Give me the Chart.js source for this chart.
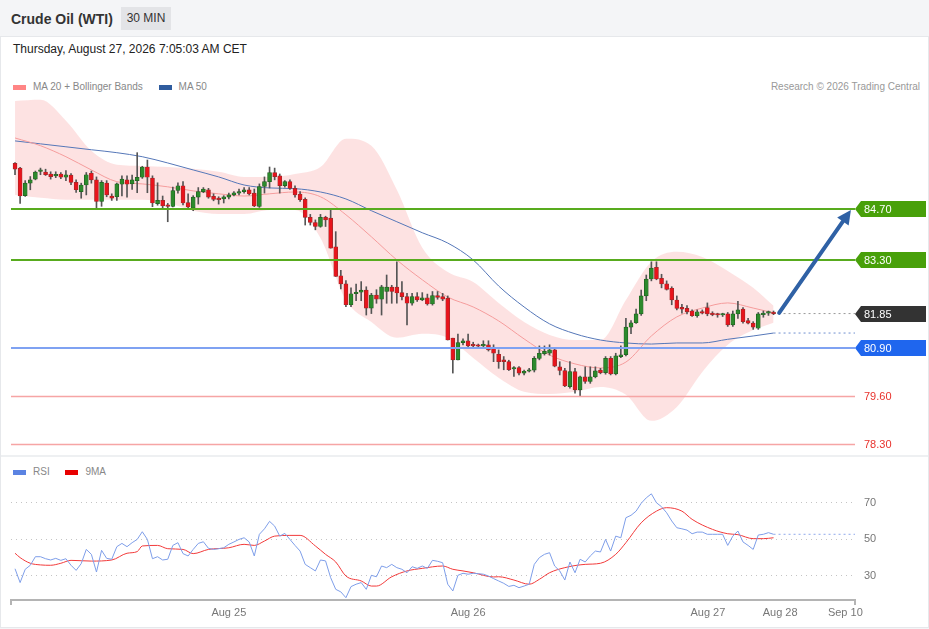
<!DOCTYPE html>
<html>
<head>
<meta charset="utf-8">
<title>Crude Oil (WTI) 30 MIN</title>
<script src="https://cdn.jsdelivr.net/npm/chart.js@4.4.1/dist/chart.umd.min.js"></script>
<style>
    html, body { margin: 0; padding: 0; }
    body {
        width: 929px; height: 629px; position: relative; overflow: hidden;
        background: #f4f5f7; font-family: "Liberation Sans", Arial, sans-serif;
    }
    .panel { position: absolute; left: 0; top: 36px; width: 927px; height: 590px; background: #fff; border: 1px solid #e6e8eb; }
    .sep { position: absolute; left: 1px; top: 455px; width: 927px; height: 2px; background: #eef0f2; }
    .title { position: absolute; left: 11px; top: 11px; font-size: 14px; font-weight: bold; color: #333; }
    .badge { position: absolute; left: 121px; top: 7px; width: 50px; height: 23px; line-height: 23px; text-align: center; background: #e3e4e7; font-size: 12px; color: #333; }
    .date { position: absolute; left: 13px; top: 42px; font-size: 12px; color: #222; }
    .legend { position: absolute; left: 13px; font-size: 10px; color: #888; height: 12px; line-height: 12px; white-space: nowrap; }
    .legend span { display: inline-block; vertical-align: middle; }
    .sw { width: 13px; height: 5px; margin-right: 7px; }
    .credit { position: absolute; right: 9px; top: 81px; font-size: 10px; color: #999; line-height: 12px; }
    canvas { position: absolute; left: 0; }
    #price { top: 95px; }
    #rsi { top: 456px; }
</style>
</head>
<body>
<div class="panel"></div>
<div class="title">Crude Oil (WTI)</div>
<div class="badge">30 MIN</div>
<div class="date">Thursday, August 27, 2026 7:05:03 AM CET</div>
<div class="legend" style="top:81px">
    <span class="sw" style="background:#ff8585"></span><span style="margin-right:13px">MA 20 + Bollinger Bands</span>
    <span class="sw" style="background:#2f5c9e"></span><span>MA 50</span>
</div>
<div class="credit">Research © 2026 Trading Central</div>
<canvas id="price" width="929" height="360"></canvas>
<div class="sep"></div>
<div class="legend" style="top:466px">
    <span class="sw" style="background:#5b83e2"></span><span style="margin-right:13px">RSI</span>
    <span class="sw" style="background:#e80000"></span><span>9MA</span>
</div>
<canvas id="rsi" width="929" height="173"></canvas>

<script>
// 30 min candles, index 0 = first bar on the left
const opens = [
    85.94, 85.81, 85.06, 85.40, 85.51, 85.72, 85.70, 85.65, 85.60, 85.65,
    85.56, 85.62, 85.42, 85.17, 85.35, 85.67, 85.49, 84.90, 85.40, 85.05,
    85.03, 85.37, 85.49, 85.38, 85.47, 85.56, 85.84, 85.54, 84.84, 84.93,
    84.80, 84.77, 85.20, 85.33, 84.87, 84.72, 85.02, 85.17, 85.22, 85.04,
    84.99, 84.97, 85.02, 85.08, 85.13, 85.17, 85.22, 85.13, 84.77, 85.31,
    85.44, 85.69, 85.60, 85.33, 85.44, 85.26, 85.10, 84.96, 84.47, 84.33,
    84.22, 84.47, 84.45, 83.67, 82.88, 82.66, 82.09, 82.39, 82.43, 82.49,
    82.00, 82.35, 82.24, 82.45, 82.57, 82.57, 82.42, 82.31, 82.13, 82.31,
    82.22, 82.28, 82.11, 82.34, 82.31, 82.27, 81.18, 80.59, 81.06, 81.11,
    81.00, 80.98, 80.97, 81.00, 80.90, 80.74, 80.59, 80.54, 80.34, 80.38,
    80.23, 80.28, 80.31, 80.63, 80.76, 80.77, 80.86, 80.40, 80.30, 79.86,
    80.27, 79.77, 80.13, 80.00, 80.13, 80.31, 80.24, 80.63, 80.21, 80.68,
    80.73, 81.48, 81.60, 81.84, 82.33, 82.79, 83.11, 82.81, 82.66, 82.54,
    82.22, 82.02, 81.99, 81.92, 81.79, 81.90, 82.01, 81.86, 81.82, 81.81,
    81.84, 81.54, 81.84, 81.97, 81.66, 81.59, 81.45, 81.82, 81.86, 81.88,
];
const highs = [
    85.96, 85.83, 85.47, 85.58, 85.73, 85.81, 85.78, 85.71, 85.71, 85.69,
    85.74, 85.66, 85.49, 85.40, 85.69, 85.73, 85.57, 85.47, 85.47, 85.11,
    85.40, 85.60, 85.60, 85.62, 86.23, 85.86, 86.03, 85.60, 85.41, 85.05,
    84.85, 85.29, 85.41, 85.44, 85.11, 85.06, 85.28, 85.28, 85.26, 85.11,
    85.03, 85.06, 85.13, 85.17, 85.24, 85.28, 85.28, 85.24, 85.38, 85.57,
    85.84, 85.81, 85.65, 85.47, 85.49, 85.33, 85.17, 85.00, 84.55, 84.40,
    84.55, 84.50, 84.67, 84.08, 83.03, 82.75, 82.55, 82.65, 82.72, 82.58,
    82.40, 82.50, 82.62, 82.90, 82.62, 83.26, 82.72, 82.40, 82.40, 82.42,
    82.42, 82.38, 82.45, 82.45, 82.40, 82.33, 81.18, 81.29, 81.16, 81.29,
    81.07, 81.02, 81.11, 81.11, 81.00, 80.86, 80.68, 80.58, 80.41, 80.41,
    80.31, 80.36, 80.68, 80.97, 80.97, 81.00, 80.92, 80.54, 80.36, 80.54,
    80.36, 80.15, 80.40, 80.40, 80.40, 80.36, 80.68, 80.68, 80.77, 80.97,
    81.72, 81.66, 81.97, 82.49, 82.90, 83.26, 83.26, 82.92, 82.74, 82.58,
    82.33, 82.10, 82.07, 81.95, 81.95, 81.95, 82.14, 81.90, 81.86, 81.86,
    81.88, 81.92, 82.18, 82.01, 81.72, 81.63, 81.88, 81.92, 81.92, 81.92,
];
const lows = [
    85.63, 84.85, 85.04, 85.22, 85.49, 85.63, 85.61, 85.51, 85.55, 85.52,
    85.47, 85.36, 85.15, 84.99, 85.08, 85.40, 84.72, 84.77, 85.03, 84.93,
    84.93, 85.05, 85.02, 85.23, 85.14, 85.53, 85.14, 84.76, 84.80, 84.72,
    84.35, 84.75, 85.13, 84.81, 84.72, 84.65, 84.83, 85.14, 84.99, 84.92,
    84.83, 84.86, 84.97, 85.05, 85.08, 85.13, 85.08, 84.76, 84.74, 85.13,
    85.27, 85.49, 85.13, 85.29, 85.23, 85.02, 84.90, 84.26, 84.26, 84.13,
    84.20, 84.22, 83.63, 82.86, 82.52, 82.04, 82.04, 82.20, 82.20, 81.81,
    81.85, 82.13, 81.81, 82.13, 82.13, 82.13, 82.22, 81.54, 82.08, 82.18,
    82.20, 82.08, 82.08, 82.24, 82.20, 81.13, 80.23, 80.59, 81.00, 80.92,
    80.92, 80.95, 80.92, 80.83, 80.54, 80.36, 80.32, 80.30, 80.14, 80.18,
    80.18, 80.26, 80.26, 80.59, 80.72, 80.72, 80.40, 80.18, 79.86, 79.82,
    79.68, 79.61, 79.95, 79.95, 80.10, 80.21, 80.20, 80.18, 80.18, 80.65,
    80.70, 81.30, 81.58, 81.80, 82.20, 82.74, 82.77, 82.55, 82.49, 82.09,
    81.95, 81.86, 81.84, 81.77, 81.75, 81.84, 81.79, 81.79, 81.75, 81.77,
    81.50, 81.50, 81.72, 81.59, 81.57, 81.42, 81.42, 81.75, 81.80, 81.82,
];
const closes = [
    85.78, 85.05, 85.40, 85.49, 85.70, 85.74, 85.63, 85.58, 85.64, 85.56,
    85.63, 85.42, 85.22, 85.35, 85.63, 85.49, 84.90, 85.42, 85.08, 84.99,
    85.38, 85.51, 85.37, 85.49, 85.56, 85.84, 85.56, 84.86, 84.93, 84.78,
    84.77, 85.20, 85.33, 84.86, 84.75, 85.02, 85.17, 85.24, 85.02, 84.96,
    84.95, 85.03, 85.08, 85.14, 85.17, 85.22, 85.11, 84.78, 85.31, 85.44,
    85.69, 85.58, 85.33, 85.44, 85.26, 85.08, 84.95, 84.47, 84.33, 84.22,
    84.47, 84.40, 83.63, 82.86, 82.66, 82.09, 82.39, 82.43, 82.49, 82.00,
    82.35, 82.24, 82.58, 82.57, 82.45, 82.41, 82.31, 82.13, 82.31, 82.22,
    82.28, 82.11, 82.34, 82.29, 82.24, 81.13, 80.59, 81.06, 81.11, 80.97,
    80.97, 80.96, 81.01, 80.86, 80.77, 80.54, 80.54, 80.32, 80.38, 80.23,
    80.28, 80.31, 80.63, 80.77, 80.82, 80.86, 80.42, 80.30, 79.88, 80.27,
    79.77, 80.13, 80.00, 80.13, 80.29, 80.24, 80.63, 80.21, 80.70, 80.73,
    81.48, 81.60, 81.84, 82.33, 82.79, 83.09, 82.79, 82.66, 82.51, 82.22,
    81.99, 81.97, 81.90, 81.79, 81.90, 81.86, 81.84, 81.82, 81.81, 81.84,
    81.54, 81.84, 81.95, 81.63, 81.59, 81.48, 81.84, 81.86, 81.88, 81.85,
];

// moving averages and Bollinger bands, read every 5 bars
const bandIdx = [0, 5, 10, 15, 20, 25, 30, 35, 40, 45, 50, 55, 60, 65, 70, 75, 80, 85, 90, 95, 100, 105, 110, 115, 120, 125, 130, 135, 140, 145, 149];
const bandUpper = [87.64, 87.67, 87.10, 86.28, 85.90, 85.87, 85.84, 85.79, 85.71, 85.57, 85.57, 85.65, 85.84, 86.61, 86.42, 85.22, 83.64, 82.98, 82.71, 82.14, 81.62, 81.27, 81.13, 81.13, 82.22, 83.26, 83.53, 83.39, 83.01, 82.55, 82.06];
const bandLower = [85.08, 85.00, 84.95, 84.95, 84.95, 84.95, 84.86, 84.65, 84.56, 84.56, 84.67, 84.67, 83.91, 82.22, 81.62, 81.19, 81.30, 81.19, 80.64, 80.10, 79.72, 79.66, 79.72, 79.85, 79.64, 78.93, 79.31, 80.26, 81.00, 81.40, 81.60];
const ma20 = [86.63, 86.42, 86.12, 85.76, 85.44, 85.38, 85.30, 85.19, 85.11, 85.05, 85.11, 85.16, 85.03, 84.54, 83.94, 83.31, 82.77, 82.30, 82.03, 81.65, 81.16, 80.72, 80.48, 80.37, 80.53, 81.24, 81.76, 82.00, 82.14, 82.00, 81.87];
const ma50 = [86.55, 86.47, 86.39, 86.31, 86.23, 86.12, 85.95, 85.76, 85.57, 85.35, 85.27, 85.25, 85.16, 84.97, 84.65, 84.35, 84.05, 83.77, 83.31, 82.60, 82.03, 81.57, 81.30, 81.13, 81.05, 81.02, 81.05, 81.05, 81.15, 81.24, 81.32];

// key levels on the right
const levelValues = [84.70, 83.30, 81.85, 80.90, 79.60, 78.30];
const lastPrice = 81.85;
const arrowStart = [150.1, 81.87];
const arrowEnd = [164.2, 84.67];

// RSI (one value per bar) and its 9 bar average
const rsiValues = [
    33.7, 26.1, 33.4, 35.6, 40.3, 40.3, 39.2, 38.5, 39.4, 38.3,
    39.2, 35.6, 32.8, 36.5, 44.3, 41.6, 31.9, 43.8, 39.4, 38.9,
    45.8, 47.6, 45.8, 48.0, 49.8, 54.0, 49.8, 39.2, 40.3, 38.5,
    38.9, 46.5, 48.0, 42.0, 40.7, 44.3, 47.6, 48.5, 44.9, 44.3,
    44.7, 45.2, 47.1, 48.4, 49.8, 50.7, 48.4, 40.7, 52.6, 55.6,
    59.7, 57.1, 51.6, 53.1, 49.8, 46.5, 43.4, 36.1, 34.3, 32.5,
    38.5, 38.0, 28.8, 22.4, 21.0, 17.8, 23.9, 25.2, 26.1, 22.4,
    30.1, 29.3, 35.2, 34.3, 36.1, 34.3, 33.4, 31.5, 34.8, 33.9,
    35.2, 33.9, 38.3, 37.8, 37.0, 25.2, 21.5, 30.1, 31.2, 30.7,
    31.2, 31.0, 30.7, 29.7, 28.3, 27.0, 25.7, 24.0, 24.6, 23.3,
    24.2, 25.2, 36.1, 39.8, 41.6, 42.5, 35.2, 32.5, 27.5, 37.4,
    31.5, 38.9, 37.4, 40.7, 43.4, 42.9, 49.8, 43.4, 51.6, 50.7,
    61.7, 63.0, 65.3, 69.6, 72.6, 74.8, 69.9, 67.7, 64.4, 59.9,
    56.2, 55.6, 54.9, 52.9, 53.8, 53.8, 52.6, 52.6, 52.6, 52.6,
    46.5, 51.6, 54.4, 48.4, 46.5, 44.3, 52.2, 52.6, 53.5, 52.6,
];
const rsiMaIdx = [0, 1, 3, 5, 7, 9, 11, 15, 19, 22, 24, 25, 28, 30, 33, 35, 38, 42, 45, 47, 49, 51, 54, 56, 59, 61, 63, 65, 68, 70, 71, 74, 77, 80, 84, 86, 88, 90, 94, 95, 98, 101, 103, 105, 108, 112, 115, 118, 120, 123, 126, 128, 131, 133, 137, 140, 142, 145, 147, 149];
const rsiMaValues = [42.2, 39.8, 36.7, 35.8, 35.6, 36.7, 38.3, 37.9, 38.5, 42.2, 43.1, 46.2, 46.5, 44.7, 44.3, 42.0, 44.3, 45.2, 47.1, 46.5, 48.9, 51.6, 52.0, 52.0, 46.2, 41.6, 37.4, 29.7, 27.0, 24.2, 24.2, 29.3, 32.5, 33.9, 35.2, 33.4, 32.5, 31.5, 29.2, 29.3, 27.5, 25.2, 27.9, 31.5, 34.3, 36.1, 36.7, 41.6, 48.0, 58.9, 65.3, 67.2, 65.3, 60.8, 55.3, 52.9, 52.4, 50.2, 50.2, 50.7];
const rsiTicks = [30, 50, 70];

// time axis: bar index of each date label; the tail after the last bar is the projection area
const xMin = -0.79;
const xMax = 165;
const dateTickPos = [xMin, 42.0, 89.0, 136.1, 150.3, 163.1, xMax];
const dateTickLabels = ['', 'Aug 25', 'Aug 26', 'Aug 27', 'Aug 28', 'Sep 10', ''];

Chart.defaults.font.family = '"Liberation Sans", Arial, sans-serif';
Chart.defaults.animation = false;

const lastIdx = closes.length - 1;
const pts = (xs, ys) => xs.map((x, i) => ({ x, y: ys[i] }));

const levelStyles = [
    { line: '#58ab1e', width: 2, tag: '#48a00a' },
    { line: '#58ab1e', width: 2, tag: '#48a00a' },
    { line: null, tag: '#333333' },
    { line: '#7fa2f2', width: 2, tag: '#1f66ee' },
    { line: '#f6a5a5', width: 1.5, text: '#e8322c' },
    { line: '#f6a5a5', width: 1.5, text: '#e8322c' },
];

const levelsPlugin = {
    id: 'levels',
    afterDatasetsDraw(chart) {
        const { ctx, chartArea, scales: { y } } = chart;
        ctx.save();
        levelValues.forEach((v, i) => {
            const st = levelStyles[i];
            if (!st.line) return;
            const py = Math.round(y.getPixelForValue(v)) + (st.width % 2 ? 0.5 : 0);
            ctx.strokeStyle = st.line;
            ctx.lineWidth = st.width;
            ctx.beginPath();
            ctx.moveTo(chartArea.left, py);
            ctx.lineTo(chartArea.right, py);
            ctx.stroke();
        });
        ctx.restore();
    },
    afterDraw(chart) {
        const { ctx, chartArea, scales: { x, y } } = chart;
        ctx.save();
        // arrow
        const x0 = x.getPixelForValue(arrowStart[0]);
        const y0 = y.getPixelForValue(arrowStart[1]);
        const x1 = x.getPixelForValue(arrowEnd[0]);
        const y1 = y.getPixelForValue(arrowEnd[1]);
        const ang = Math.atan2(y1 - y0, x1 - x0);
        const headLen = 14;
        const bx = x1 - headLen * Math.cos(ang);
        const by = y1 - headLen * Math.sin(ang);
        ctx.strokeStyle = '#2f61a5';
        ctx.fillStyle = '#2f61a5';
        ctx.lineWidth = 4;
        ctx.lineCap = 'round';
        ctx.beginPath();
        ctx.moveTo(x0, y0);
        ctx.lineTo(bx, by);
        ctx.stroke();
        ctx.beginPath();
        ctx.moveTo(x1, y1);
        ctx.lineTo(bx + 7 * Math.sin(ang), by - 7 * Math.cos(ang));
        ctx.lineTo(bx - 7 * Math.sin(ang), by + 7 * Math.cos(ang));
        ctx.closePath();
        ctx.fill();

        // value tags
        ctx.font = '11px "Liberation Sans", Arial, sans-serif';
        ctx.textBaseline = 'middle';
        ctx.textAlign = 'left';
        const left = chartArea.right;
        levelValues.forEach((v, i) => {
            const st = levelStyles[i];
            const py = Math.round(y.getPixelForValue(v));
            if (st.tag) {
                ctx.fillStyle = st.tag;
                ctx.beginPath();
                ctx.moveTo(left, py);
                ctx.lineTo(left + 6, py - 8);
                ctx.lineTo(left + 71, py - 8);
                ctx.lineTo(left + 71, py + 8);
                ctx.lineTo(left + 6, py + 8);
                ctx.closePath();
                ctx.fill();
                ctx.fillStyle = '#ffffff';
            } else {
                ctx.fillStyle = st.text;
            }
            ctx.fillText(v.toFixed(2), left + 9, py + 0.5);
        });
        ctx.restore();
    },
};

const isUp = (i) => closes[i] >= opens[i];

new Chart(document.getElementById('price'), {
    type: 'bar',
    data: {
        datasets: [
            {
                type: 'line', data: pts(bandIdx, bandUpper), borderWidth: 0, borderColor: 'transparent',
                pointRadius: 0, fill: false, cubicInterpolationMode: 'monotone', order: 30,
            },
            {
                type: 'line', data: pts(bandIdx, bandLower), borderWidth: 0, borderColor: 'transparent',
                pointRadius: 0, fill: 0, backgroundColor: 'rgba(248,150,150,0.28)',
                cubicInterpolationMode: 'monotone', order: 30,
            },
            {
                type: 'line', data: pts(bandIdx, ma20), borderColor: '#f59c9c', borderWidth: 1,
                pointRadius: 0, cubicInterpolationMode: 'monotone', order: 20,
            },
            {
                type: 'line', data: pts(bandIdx, ma50), borderColor: '#5577b8', borderWidth: 1,
                pointRadius: 0, cubicInterpolationMode: 'monotone', order: 20,
            },
            {
                type: 'line', data: [{ x: lastIdx, y: ma50[ma50.length - 1] }, { x: xMax, y: ma50[ma50.length - 1] }],
                borderColor: '#6f8fcf', borderWidth: 1, borderDash: [2, 3], pointRadius: 0, order: 20,
            },
            {
                type: 'line', data: [{ x: lastIdx, y: lastPrice }, { x: xMax, y: lastPrice }],
                borderColor: '#999999', borderWidth: 1, borderDash: [2, 3], pointRadius: 0, order: 20,
            },
            {
                data: highs.map((h, i) => ({ x: i, y: [lows[i], h] })),
                backgroundColor: '#555555', barThickness: 1, grouped: false, order: 2,
            },
            {
                data: opens.map((o, i) => ({ x: i, y: [o, closes[i]] })),
                backgroundColor: (ctx) => isUp(ctx.dataIndex) ? '#2c8a2c' : '#e8141c',
                borderColor: (ctx) => isUp(ctx.dataIndex) ? '#1f5e1f' : '#9a2a2a',
                borderWidth: 0.7, borderSkipped: false,
                barThickness: 4, minBarLength: 1.5, grouped: false, order: 1,
            },
        ],
    },
    options: {
        responsive: false,
        events: [],
        layout: { padding: { left: 11, right: 74, top: 0, bottom: 0 } },
        plugins: { legend: { display: false }, tooltip: { enabled: false } },
        scales: {
            x: { type: 'linear', min: xMin, max: xMax, offset: false, display: false },
            y: { type: 'linear', min: 78.0, max: 87.8, display: false },
        },
    },
    plugins: [levelsPlugin],
});

const noPadding = (scale) => {
    scale.paddingTop = 0;
    scale.paddingBottom = 0;
    scale.paddingLeft = 0;
    scale.paddingRight = 0;
};

new Chart(document.getElementById('rsi'), {
    type: 'line',
    data: {
        datasets: [
            {
                data: rsiValues.map((v, i) => ({ x: i, y: v })),
                borderColor: '#7e9ee9', borderWidth: 1, pointRadius: 0, tension: 0,
            },
            {
                data: pts(rsiMaIdx, rsiMaValues),
                borderColor: '#f23a3a', borderWidth: 1, pointRadius: 0, cubicInterpolationMode: 'monotone',
            },
            {
                data: [{ x: lastIdx, y: rsiValues[lastIdx] }, { x: xMax, y: rsiValues[lastIdx] }],
                borderColor: '#8fa9ec', borderWidth: 1, borderDash: [2, 3], pointRadius: 0,
            },
        ],
    },
    options: {
        responsive: false,
        events: [],
        layout: { padding: { left: 11, right: 0, top: 0, bottom: 0 } },
        plugins: { legend: { display: false }, tooltip: { enabled: false } },
        scales: {
            x: {
                type: 'linear', min: xMin, max: xMax, offset: false,
                afterBuildTicks: (scale) => { scale.ticks = dateTickPos.map((value) => ({ value })); },
                afterFit: (scale) => { scale.height = 29; noPadding(scale); },
                ticks: {
                    autoSkip: false, maxRotation: 0, padding: 1, color: '#777', font: { size: 11 },
                    callback: (value, index) => dateTickLabels[index],
                },
                grid: {
                    drawOnChartArea: false, tickLength: 5, lineWidth: 2,
                    color: (ctx) => (ctx.index === 0 || ctx.index === dateTickPos.length - 1) ? '#b4b4b4' : 'transparent',
                },
                border: { display: true, color: '#b4b4b4', width: 2 },
            },
            y: {
                type: 'linear', position: 'right', min: 16.55, max: 95.55,
                afterBuildTicks: (scale) => { scale.ticks = rsiTicks.map((value) => ({ value })); },
                afterFit: (scale) => { scale.width = 74; noPadding(scale); },
                ticks: { padding: 9, color: '#777', font: { size: 11 } },
                grid: { drawTicks: false, color: '#c4c4c4', lineWidth: 1 },
                border: { display: false, dash: [1, 4] },
            },
        },
    },
});
</script>
</body>
</html>
